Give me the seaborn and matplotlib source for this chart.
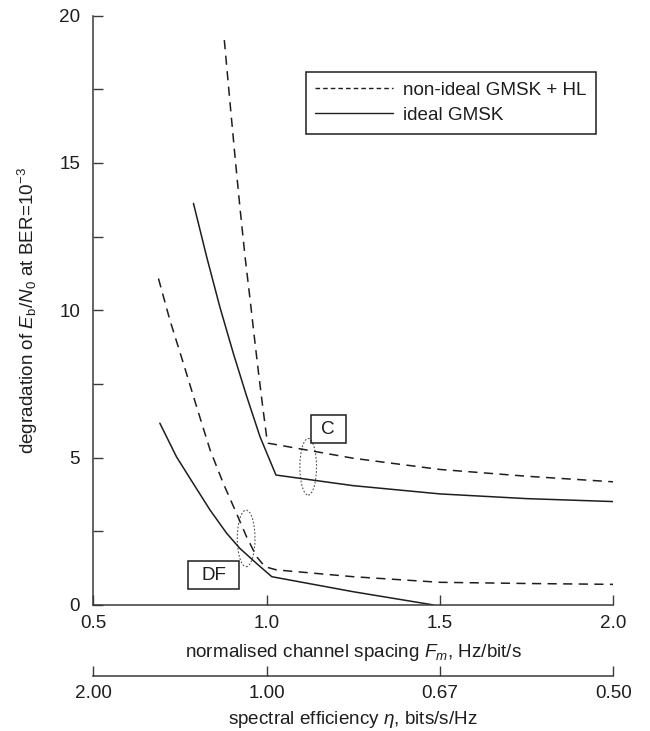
import numpy as np
import pandas as pd
import matplotlib
matplotlib.use('Agg')
import matplotlib.pyplot as plt
import seaborn as sns
from matplotlib.patches import Ellipse, Rectangle
from matplotlib.lines import Line2D
from matplotlib.ticker import MultipleLocator

# ---- data ----
fm_nonideal_c = [0.878, 0.894, 0.909, 0.923, 0.938, 0.952, 0.966, 0.976, 0.988, 1.000, 1.005, 1.25, 1.5, 1.75, 2.0]
deg_nonideal_c = [19.17, 17.10, 15.20, 13.50, 11.80, 10.40, 8.95, 7.95, 6.80, 5.71, 5.49, 4.98, 4.60, 4.37, 4.18]

fm_ideal_c = [0.789, 0.827, 0.865, 0.904, 0.942, 0.981, 1.005, 1.027, 1.25, 1.5, 1.75, 2.0]
deg_ideal_c = [13.63, 11.82, 10.12, 8.54, 7.10, 5.71, 5.03, 4.41, 4.05, 3.77, 3.61, 3.51]

fm_nonideal_df = [0.688, 0.721, 0.760, 0.798, 0.837, 0.875, 0.909, 0.942, 0.971, 0.995, 1.029, 1.25, 1.5, 1.75, 2.0]
deg_nonideal_df = [11.08, 9.67, 8.20, 6.73, 5.26, 4.13, 3.22, 2.32, 1.64, 1.30, 1.19, 0.96, 0.77, 0.73, 0.70]

fm_ideal_df = [0.692, 0.740, 0.788, 0.837, 0.885, 0.923, 0.971, 1.015, 1.25, 1.482]
deg_ideal_df = [6.17, 5.03, 4.13, 3.22, 2.43, 1.92, 1.41, 0.96, 0.45, 0.0]

model_labels = ['non-ideal GMSK + HL', 'ideal GMSK']
fm_ticks = [0.5, 1.0, 1.5, 2.0]
fm_ticklabels = ['0.5', '1.0', '1.5', '2.0']
eta_ticklabels = ['2.00', '1.00', '0.67', '0.50']
y_ticks = [0, 5, 10, 15, 20]

frames = []
for fm, deg, model, case in [
    (fm_nonideal_c, deg_nonideal_c, model_labels[0], 'C'),
    (fm_ideal_c, deg_ideal_c, model_labels[1], 'C'),
    (fm_nonideal_df, deg_nonideal_df, model_labels[0], 'DF'),
    (fm_ideal_df, deg_ideal_df, model_labels[1], 'DF'),
]:
    frames.append(pd.DataFrame({'Fm': fm, 'deg': deg, 'model': model,
                                'curve': model + ' ' + case}))
df = pd.concat(frames, ignore_index=True)

# ---- style ----
sns.set_style('ticks')
plt.rcParams['font.family'] = ['Liberation Sans', 'DejaVu Sans']
plt.rcParams['mathtext.fontset'] = 'custom'
plt.rcParams['mathtext.rm'] = 'Liberation Sans'
plt.rcParams['mathtext.it'] = 'Liberation Sans:italic'
plt.rcParams['mathtext.bf'] = 'Liberation Sans:bold'

FS = 13.6
ink = '#1e1e1e'
spine_c = '#3a3a3a'

fig = plt.figure(figsize=(6.5, 7.31), dpi=100)
ax = fig.add_axes([0.1435, 0.17237, 0.8, 0.8062])

sns.lineplot(data=df, x='Fm', y='deg', style='model', units='curve',
             estimator=None, sort=False, color=ink, lw=1.1,
             dashes={model_labels[0]: (6.0, 4.2), model_labels[1]: ''},
             legend=False, ax=ax)

ax.set_xlim(0.5, 2.0)
ax.set_ylim(0, 20)
sns.despine(ax=ax)
for s in ['left', 'bottom']:
    ax.spines[s].set_color(spine_c)
    ax.spines[s].set_linewidth(1.1)

ax.set_xticks(fm_ticks, labels=fm_ticklabels)
ax.set_yticks(y_ticks)
ax.yaxis.set_minor_locator(MultipleLocator(2.5))
ax.tick_params(axis='both', which='both', direction='in', length=7.5,
               width=1.0, color=spine_c, labelsize=FS, labelcolor=ink)
ax.tick_params(axis='x', pad=7)
ax.tick_params(axis='y', pad=9.5)

ax.set_xlabel('normalised channel spacing $F_m$, Hz/bit/s', fontsize=FS, color=ink)
ax.xaxis.set_label_coords(0.5, -0.0798)
ax.xaxis.label.set_va('center')
ax.set_ylabel('degradation of $E_{\\mathrm{b}}/N_0$ at BER=10$^{-3}$', fontsize=FS, color=ink)
ax.yaxis.set_label_coords(-0.1256, 0.5)
ax.yaxis.label.set_va('center')

# secondary axis: spectral efficiency
sec = ax.secondary_xaxis(-0.1205)
sec.set_xticks(fm_ticks, labels=eta_ticklabels)
sec.tick_params(direction='in', length=7.5, width=1.0, color=spine_c,
                pad=6.5, labelsize=FS, labelcolor=ink)
sec.spines['bottom'].set_color(spine_c)
sec.spines['bottom'].set_linewidth(1.1)
sec.set_xlabel('spectral efficiency $\\eta$, bits/s/Hz', fontsize=FS, color=ink, labelpad=5)

# annotations
ax.add_patch(Ellipse((1.120, 4.69), 0.048, 1.92, fill=False, ls=(0, (1.6, 1.6)),
                     lw=0.8, ec='#555555'))
ax.add_patch(Ellipse((0.941, 2.26), 0.051, 1.92, fill=False, ls=(0, (1.6, 1.6)),
                     lw=0.8, ec='#555555'))
ax.add_patch(Rectangle((1.127, 5.49), 0.101, 0.96, fill=False, lw=1.1, ec=ink))
ax.text(1.1775, 5.97, 'C', ha='center', va='center', fontsize=FS, color=ink)
ax.add_patch(Rectangle((0.774, 0.53), 0.147, 0.96, fill=False, lw=1.1, ec=ink))
ax.text(0.8475, 1.01, 'DF', ha='center', va='center', fontsize=FS, color=ink)

# legend
handles = [Line2D([], [], color=ink, lw=1.0, dashes=(3.3, 2.2)),
           Line2D([], [], color=ink, lw=1.0)]
leg = ax.legend(handles, model_labels, loc='upper right',
                bbox_to_anchor=(0.9667, 0.904), borderaxespad=0,
                handlelength=4.1, handletextpad=0.55, borderpad=0.5,
                labelspacing=0.42, fancybox=False, framealpha=1,
                edgecolor=ink, fontsize=FS)
leg.get_frame().set_linewidth(1.1)
for t in leg.get_texts():
    t.set_color(ink)

fig.savefig('out.png', dpi=100)
